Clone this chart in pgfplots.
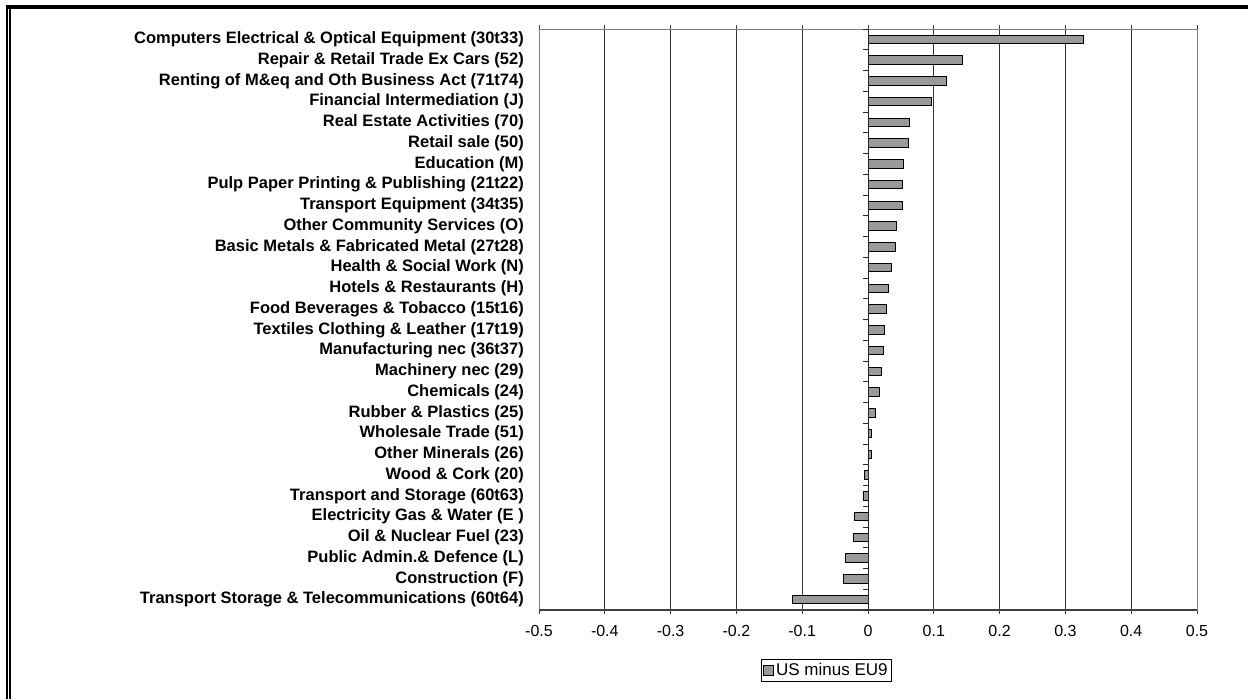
\documentclass[border=0pt]{standalone}
\usepackage{fontspec}
\setmainfont{Liberation Sans}
\usepackage{pgfplots}
\pgfplotsset{compat=1.18}
\definecolor{barfill}{RGB}{153,153,153}
\begin{document}
\begin{tikzpicture}[x=1pt,y=1pt]
\useasboundingbox (0,0) rectangle (1248,699);
\fill[black] (6,690) rectangle (1248,694);
\fill[black] (6,0) rectangle (7.5,694);
\fill[black] (9,0) rectangle (11,690);
\begin{axis}[
  at={(539pt,89pt)}, anchor=south west,
  scale only axis, width=658pt, height=581pt,
  xmin=-0.5, xmax=0.5, ymin=-0.5, ymax=27.5,
  y dir=reverse,
  xbar, bar width=8.5pt,
  xtick={-0.5,-0.4,-0.3,-0.2,-0.1,0,0.1,0.2,0.3,0.4,0.5},
  xticklabels={-0.5,-0.4,-0.3,-0.2,-0.1,0,0.1,0.2,0.3,0.4,0.5},
  xtick align=outside, major tick length=4pt,
  xtick style={black!75, line width=0.8pt},
  xticklabel style={font=\fontsize{16}{18}\selectfont, inner sep=0pt, yshift=-11pt},
  ytick={0,...,27},
  yticklabels={
    Computers Electrical \& Optical Equipment (30t33),
    Repair \& Retail Trade Ex Cars (52),
    Renting of M\&eq and Oth Business Act (71t74),
    Financial Intermediation (J),
    Real Estate Activities (70),
    Retail sale (50),
    Education (M),
    Pulp Paper Printing \& Publishing (21t22),
    Transport Equipment (34t35),
    Other Community Services (O),
    Basic Metals \& Fabricated Metal (27t28),
    Health \& Social Work (N),
    Hotels \& Restaurants (H),
    Food Beverages \& Tobacco (15t16),
    Textiles Clothing \& Leather (17t19),
    Manufacturing nec (36t37),
    Machinery nec (29),
    Chemicals (24),
    Rubber \& Plastics (25),
    Wholesale Trade (51),
    Other Minerals (26),
    Wood \& Cork (20),
    Transport and Storage (60t63),
    Electricity Gas \& Water (E ),
    Oil \& Nuclear Fuel (23),
    Public Admin.\& Defence (L),
    Construction (F),
    Transport Storage \& Telecommunications (60t64)},
  ytick style={draw=none},
  yticklabel style={font=\bfseries\fontsize{16.5}{18}\selectfont, inner xsep=0pt, xshift=-11pt},
  xmajorgrids,
  grid style={black!80, line width=0.8pt},
  axis line style={black!50, line width=1pt},
  legend style={at={(0.5365,0)}, anchor=north east, yshift=-49pt, draw=black, line width=0.8pt,
    font=\fontsize{17}{19}\selectfont, inner xsep=2pt, inner ysep=2pt,
    legend cell align=left},
  legend image code/.code={\draw[#1, line width=0.8pt] (0pt,-5pt) rectangle (10pt,5pt);},
]
\addplot[fill=barfill, draw=black, line width=1pt] coordinates {
  (0.327,0) (0.143,1) (0.119,2) (0.097,3) (0.063,4) (0.062,5) (0.054,6)
  (0.052,7) (0.052,8) (0.043,9) (0.042,10) (0.035,11) (0.031,12) (0.028,13)
  (0.025,14) (0.024,15) (0.021,16) (0.017,17) (0.011,18) (0.005,19) (0.005,20)
  (-0.006,21) (-0.007,22) (-0.020,23) (-0.022,24) (-0.034,25) (-0.038,26) (-0.115,27)
};
\addlegendentry{US minus EU9}
\draw[black!75, line width=1.3pt] (axis cs:-0.5,27.5) -- (axis cs:0.5,27.5);
\draw[black!85, line width=1pt] (axis cs:0,-0.5) -- (axis cs:0,27.5);
\pgfplotsinvokeforeach{-0.5,0.5,...,27.5}{
  \draw[black!85, line width=0.8pt] (axis cs:0,#1) -- ++(-5pt,0pt);
}
\end{axis}
\end{tikzpicture}
\end{document}
